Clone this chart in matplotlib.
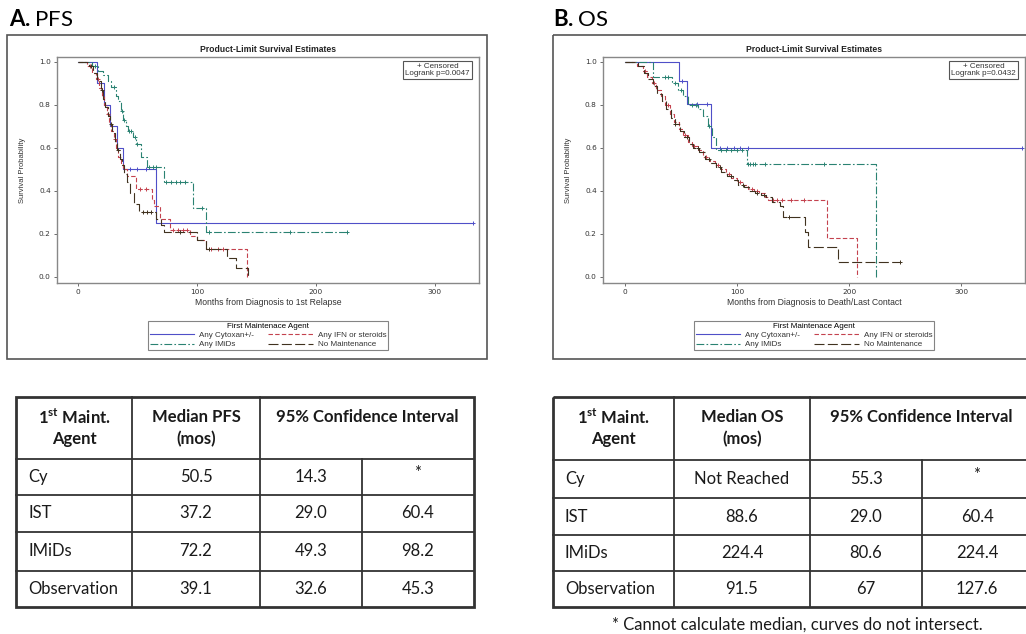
import numpy as np
import matplotlib.pyplot as plt
from matplotlib.lines import Line2D
from matplotlib.patches import Rectangle

plt.rcParams['mathtext.fontset'] = 'custom'
plt.rcParams['mathtext.rm'] = 'Lato'
plt.rcParams['mathtext.bf'] = 'Lato:bold'

# ---- PFS curves (months, survival after step) ----
cy_pfs_t = [0, 16, 22, 27, 33, 38, 66]
cy_pfs_s = [1.0, 0.9, 0.8, 0.7, 0.6, 0.5, 0.25]
cy_pfs_cens = [44, 50, 57, 332]

ifn_pfs_t = [0, 8, 12, 15, 18, 20, 22, 24, 26, 28, 30, 32, 34, 36, 38, 41, 49, 62, 64, 69, 77, 94, 100, 108, 142]
ifn_pfs_s = [1.0, 0.98, 0.95, 0.92, 0.88, 0.84, 0.80, 0.76, 0.72, 0.68, 0.64, 0.60, 0.56, 0.53, 0.50,
             0.47, 0.41, 0.36, 0.33, 0.27, 0.22, 0.19, 0.17, 0.13, 0.0]
ifn_pfs_cens = [10, 17, 25, 31, 52, 57, 80, 84, 88, 92, 112, 118, 122]

imid_pfs_t = [0, 12, 17, 21, 25, 28, 32, 34, 36, 38, 40, 42, 46, 49, 53, 58, 72, 97, 108]
imid_pfs_s = [1.0, 0.98, 0.96, 0.94, 0.91, 0.885, 0.84, 0.82, 0.77, 0.73, 0.70, 0.68, 0.65, 0.62,
              0.56, 0.51, 0.44, 0.32, 0.21]
imid_pfs_cens = [14, 30, 37, 39, 43, 45, 48, 50, 60, 63, 66, 74, 78, 82, 86, 90, 104, 110, 178, 226]

nm_pfs_t = [0, 9, 13, 16, 19, 21, 23, 25, 27, 29, 31, 33, 35, 37, 39, 41, 44, 47, 51, 66, 70, 72,
            100, 108, 125, 133, 143]
nm_pfs_s = [1.0, 0.98, 0.95, 0.91, 0.87, 0.83, 0.79, 0.75, 0.71, 0.67, 0.63, 0.59, 0.55, 0.52, 0.48,
            0.44, 0.39, 0.34, 0.30, 0.27, 0.24, 0.21, 0.17, 0.13, 0.087, 0.04, 0.0]
nm_pfs_cens = [11, 20, 28, 34, 55, 58, 61, 86, 110]

# ---- OS curves ----
cy_os_t = [0, 48.5, 55, 76.8]
cy_os_s = [1.0, 0.91, 0.805, 0.60]
cy_os_cens = [51, 64, 73, 85, 91, 97, 103, 110, 354]

ifn_os_t = [0, 11, 16, 20, 24, 28, 32, 36, 40, 44, 48, 52, 56, 60, 65, 70, 75, 80, 85, 90, 95, 100,
            105, 110, 115, 120, 125, 128, 180, 207]
ifn_os_s = [1.0, 0.98, 0.96, 0.93, 0.90, 0.87, 0.84, 0.80, 0.76, 0.72, 0.69, 0.66, 0.63, 0.61, 0.59,
            0.56, 0.54, 0.52, 0.50, 0.48, 0.46, 0.44, 0.43, 0.41, 0.40, 0.39, 0.37, 0.358, 0.18, 0.0]
ifn_os_cens = [18, 26, 38, 54, 62, 72, 83, 93, 103, 113, 118, 132, 136, 140, 148, 160]

imid_os_t = [0, 25, 42, 47, 52, 56, 65, 70, 74, 78, 81, 108.6, 224]
imid_os_s = [1.0, 0.93, 0.90, 0.87, 0.84, 0.80, 0.78, 0.75, 0.70, 0.65, 0.59, 0.526, 0.0]
imid_os_cens = [36, 38, 45, 50, 60, 63, 75, 86, 90, 95, 100, 104, 110, 112, 114, 116, 125, 178]

nm_os_t = [0, 12, 17, 21, 25, 29, 33, 37, 41, 45, 49, 53, 57, 61, 66, 71, 76, 81, 86, 91, 96, 101,
           106, 111, 116, 121, 126, 131, 138, 141, 161, 163, 190]
nm_os_s = [1.0, 0.98, 0.95, 0.92, 0.89, 0.85, 0.82, 0.78, 0.74, 0.71, 0.68, 0.65, 0.62, 0.60, 0.58,
           0.55, 0.53, 0.51, 0.49, 0.47, 0.45, 0.43, 0.42, 0.40, 0.39, 0.38, 0.37, 0.35, 0.33, 0.28,
           0.21, 0.14, 0.068]
nm_os_cens = [45, 55, 65, 75, 85, 95, 105, 118, 124, 146, 245.5]

# ---- tables ----
agents = ['Cy', 'IST', 'IMiDs', 'Observation']
pfs_median = ['50.5', '37.2', '72.2', '39.1']
pfs_lo = ['14.3', '29.0', '49.3', '32.6']
pfs_hi = ['*', '60.4', '98.2', '45.3']
os_median = ['Not Reached', '88.6', '224.4', '91.5']
os_lo = ['55.3', '29.0', '80.6', '67']
os_hi = ['*', '60.4', '224.4', '127.6']

group_labels = ['Any Cytoxan+/-', 'Any IFN or steroids', 'Any IMiDs', 'No Maintenance']
colors = ['#4f4fc8', '#c4424e', '#2a8272', '#40321f']
dashes = ['-', (0, (4, 2)), (0, (7, 2, 1.5, 2)), (0, (9, 3))]

CHART_FONT = 'Liberation Sans'
TABLE_FONT = 'Lato'


def km_plot(ax, t, s, cens, color, ls):
    t = np.asarray(t, float)
    s = np.asarray(s, float)
    cens = np.asarray(cens, float)
    t_end = max(t[-1], cens.max())
    ax.step(np.append(t, t_end), np.append(s, s[-1]), where='post',
            color=color, ls=ls, lw=0.8)
    cs = s[np.searchsorted(t, cens, side='right') - 1]
    ax.plot(cens, cs, ls='none', marker='+', ms=3.5, mew=0.7, color=color)


def survival_axes(rect, curves, xlim, xlabel, pval):
    ax = fig.add_axes(rect)
    for (t, s, c), col, ls in zip(curves, colors, dashes):
        km_plot(ax, t, s, c, col, ls)
    ax.set_xlim(*xlim)
    ax.set_ylim(-0.028, 1.023)
    ax.set_xticks([0, 100, 200, 300])
    ax.set_yticks([0, 0.2, 0.4, 0.6, 0.8, 1.0])
    ax.set_yticklabels(['0.0', '0.2', '0.4', '0.6', '0.8', '1.0'])
    ax.tick_params(labelsize=5.3, length=2.5, width=0.6, colors='#555555', labelcolor='#333333', pad=2)
    for sp in ax.spines.values():
        sp.set_color('#888888')
        sp.set_linewidth(1.0)
    ax.set_title('Product-Limit Survival Estimates', fontsize=6.2, weight='bold',
                 family=CHART_FONT, pad=3.5, color='#222222')
    ax.set_xlabel(xlabel, fontsize=6.2, family=CHART_FONT, labelpad=2, color='#333333')
    ax.set_ylabel('Survival Probability', fontsize=5.5, family=CHART_FONT, labelpad=9, color='#333333')
    ax.text(0.978, 0.975, '+ Censored\nLogrank p=' + pval, transform=ax.transAxes,
            ha='right', va='top', fontsize=5.8, family=CHART_FONT, color='#333333',
            linespacing=1.1, multialignment='center',
            bbox=dict(boxstyle='square,pad=0.25', fc='white', ec='#555555', lw=0.8))
    handles = [Line2D([], [], color=col, ls=ls, lw=0.8) for col, ls in zip(colors, dashes)]
    order = [0, 2, 1, 3]
    leg = ax.legend([handles[i] for i in order], [group_labels[i] for i in order],
                    ncol=2, loc='upper center', bbox_to_anchor=(0.5, -0.15),
                    title='First Maintenace Agent', title_fontsize=5.8,
                    frameon=True, fancybox=False, edgecolor='#666666', handlelength=5.5,
                    borderpad=0.25, labelspacing=0.2, columnspacing=1.8, handletextpad=0.6,
                    prop={'family': CHART_FONT, 'size': 5.8})
    leg.get_frame().set_linewidth(0.8)
    leg.get_title().set_family(CHART_FONT)
    for txt in leg.get_texts():
        txt.set_color('#333333')
    return ax


def draw_table(bg, xs, ys, median_label, medians, los, his):
    lc = '#333333'
    # outer frame and lines
    bg.add_patch(Rectangle((xs[0], ys[0]), xs[-1] - xs[0], ys[-1] - ys[0], fill=False,
                           ec=lc, lw=2.0, zorder=3, clip_on=True))
    for x in xs[1:3]:
        bg.plot([x, x], [ys[0], ys[-1]], color=lc, lw=1.3)
    bg.plot([xs[3], xs[3]], [ys[1], ys[-1]], color=lc, lw=1.3)
    for y in ys[1:-1]:
        bg.plot([xs[0], xs[-1]], [y, y], color=lc, lw=1.3)
    kw = dict(family=TABLE_FONT, fontsize=12, color='#1a1a1a')
    y1 = ys[0] + 20
    y2 = ys[0] + 42
    bg.text((xs[0] + xs[1]) / 2, y1, r'1$^{\mathbf{st}}$ Maint.', ha='center', va='center',
            weight='bold', **kw)
    bg.text((xs[0] + xs[1]) / 2, y2, 'Agent', ha='center', va='center', weight='bold', **kw)
    bg.text((xs[1] + xs[2]) / 2, y1, median_label, ha='center', va='center', weight='bold', **kw)
    bg.text((xs[1] + xs[2]) / 2, y2, '(mos)', ha='center', va='center', weight='bold', **kw)
    bg.text((xs[2] + xs[4]) / 2, y1, '95% Confidence Interval', ha='center', va='center',
            weight='bold', **kw)
    for i, (a, m, lo, hi) in enumerate(zip(agents, medians, los, his)):
        yc = (ys[i + 1] + ys[i + 2]) / 2
        bg.text(xs[0] + 12, yc, a, ha='left', va='center', **kw)
        bg.text((xs[1] + xs[2]) / 2, yc, m, ha='center', va='center', **kw)
        bg.text((xs[2] + xs[3]) / 2, yc, lo, ha='center', va='center', **kw)
        bg.text((xs[3] + xs[4]) / 2, yc - (4 if hi == '*' else 0), hi, ha='center',
                va='center', **kw)


W, H = 1026, 634
fig = plt.figure(figsize=(W / 100, H / 100), dpi=100)
bg = fig.add_axes([0, 0, 1, 1])
bg.set_xlim(0, W)
bg.set_ylim(H, 0)
bg.axis('off')

# panel frames and titles
bg.add_patch(Rectangle((7, 35), 480, 324, fill=False, ec='#555555', lw=1.2))
bg.add_patch(Rectangle((553, 35), 480, 324, fill=False, ec='#555555', lw=1.2))
bg.text(9, 20, r'$\mathbf{A.}$PFS', family=TABLE_FONT, fontsize=16, va='center', ha='left')
bg.text(553, 20, r'$\mathbf{B.}$OS', family=TABLE_FONT, fontsize=16, va='center', ha='left')

pfs_curves = [(cy_pfs_t, cy_pfs_s, cy_pfs_cens), (ifn_pfs_t, ifn_pfs_s, ifn_pfs_cens),
              (imid_pfs_t, imid_pfs_s, imid_pfs_cens), (nm_pfs_t, nm_pfs_s, nm_pfs_cens)]
os_curves = [(cy_os_t, cy_os_s, cy_os_cens), (ifn_os_t, ifn_os_s, ifn_os_cens),
             (imid_os_t, imid_os_s, imid_os_cens), (nm_os_t, nm_os_s, nm_os_cens)]

survival_axes([57 / W, 1 - 283 / H, 422 / W, 226 / H], pfs_curves, (-17.6, 337),
              'Months from Diagnosis to 1st Relapse', '0.0047')
survival_axes([603 / W, 1 - 283 / H, 422 / W, 226 / H], os_curves, (-19.6, 357),
              'Months from Diagnosis to Death/Last Contact', '0.0432')

draw_table(bg, [16, 132, 260, 362, 474], [397, 459, 495, 532, 571, 607],
           'Median PFS', pfs_median, pfs_lo, pfs_hi)
draw_table(bg, [553, 674, 810, 922, 1032], [397, 460, 498, 535, 571, 607],
           'Median OS', os_median, os_lo, os_hi)

bg.text(797, 625, '* Cannot calculate median, curves do not intersect.', family=TABLE_FONT,
        fontsize=12, ha='center', va='center', color='#1a1a1a')

fig.savefig('out.png', dpi=100)
